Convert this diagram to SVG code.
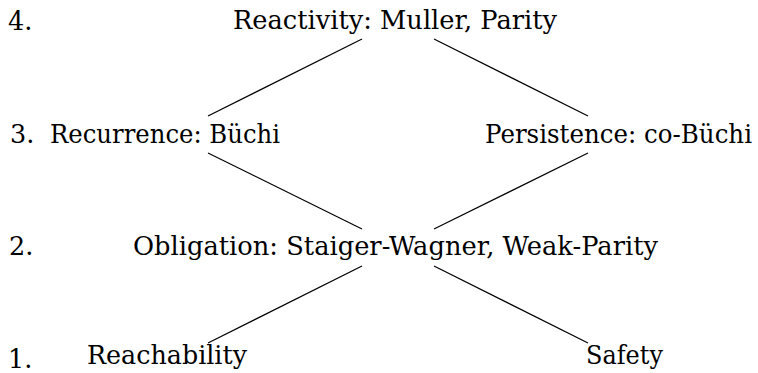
<svg xmlns="http://www.w3.org/2000/svg" width="758" height="373" viewBox="0 0 758 373">
<style>
.t { font-family: 'DejaVu Serif', 'Liberation Serif', serif; font-size: 25.5px; fill: #000; }
.edge { stroke: #000; stroke-width: 1.2; fill: none; }
</style>
<rect width="758" height="373" fill="#fff"/>
<g id="levels" class="t">
<text x="8" y="30">4.</text>
<text x="10" y="143">3.</text>
<text x="9" y="255">2.</text>
<text x="8" y="368">1.</text>
</g>
<g id="reactivity" class="t"><text x="233" y="29" textLength="324" lengthAdjust="spacingAndGlyphs">Reactivity: Muller, Parity</text></g>
<g id="recurrence" class="t"><text x="50" y="143" textLength="230" lengthAdjust="spacingAndGlyphs">Recurrence: Büchi</text></g>
<g id="persistence" class="t"><text x="752" y="143" text-anchor="end" textLength="267" lengthAdjust="spacingAndGlyphs">Persistence: co-Büchi</text></g>
<g id="obligation" class="t"><text x="133" y="255" textLength="525" lengthAdjust="spacingAndGlyphs">Obligation: Staiger-Wagner, Weak-Parity</text></g>
<g id="reachability" class="t"><text x="87" y="364" textLength="160" lengthAdjust="spacingAndGlyphs">Reachability</text></g>
<g id="safety" class="t"><text x="586" y="364" textLength="77" lengthAdjust="spacingAndGlyphs">Safety</text></g>
<g id="connectors">
<line class="edge" x1="362" y1="39" x2="208" y2="116"/>
<line class="edge" x1="434" y1="39" x2="588" y2="116"/>
<line class="edge" x1="208" y1="153" x2="362" y2="229"/>
<line class="edge" x1="588" y1="153" x2="434" y2="229"/>
<line class="edge" x1="362" y1="266" x2="208" y2="343"/>
<line class="edge" x1="434" y1="266" x2="588" y2="343"/>
</g>
</svg>
